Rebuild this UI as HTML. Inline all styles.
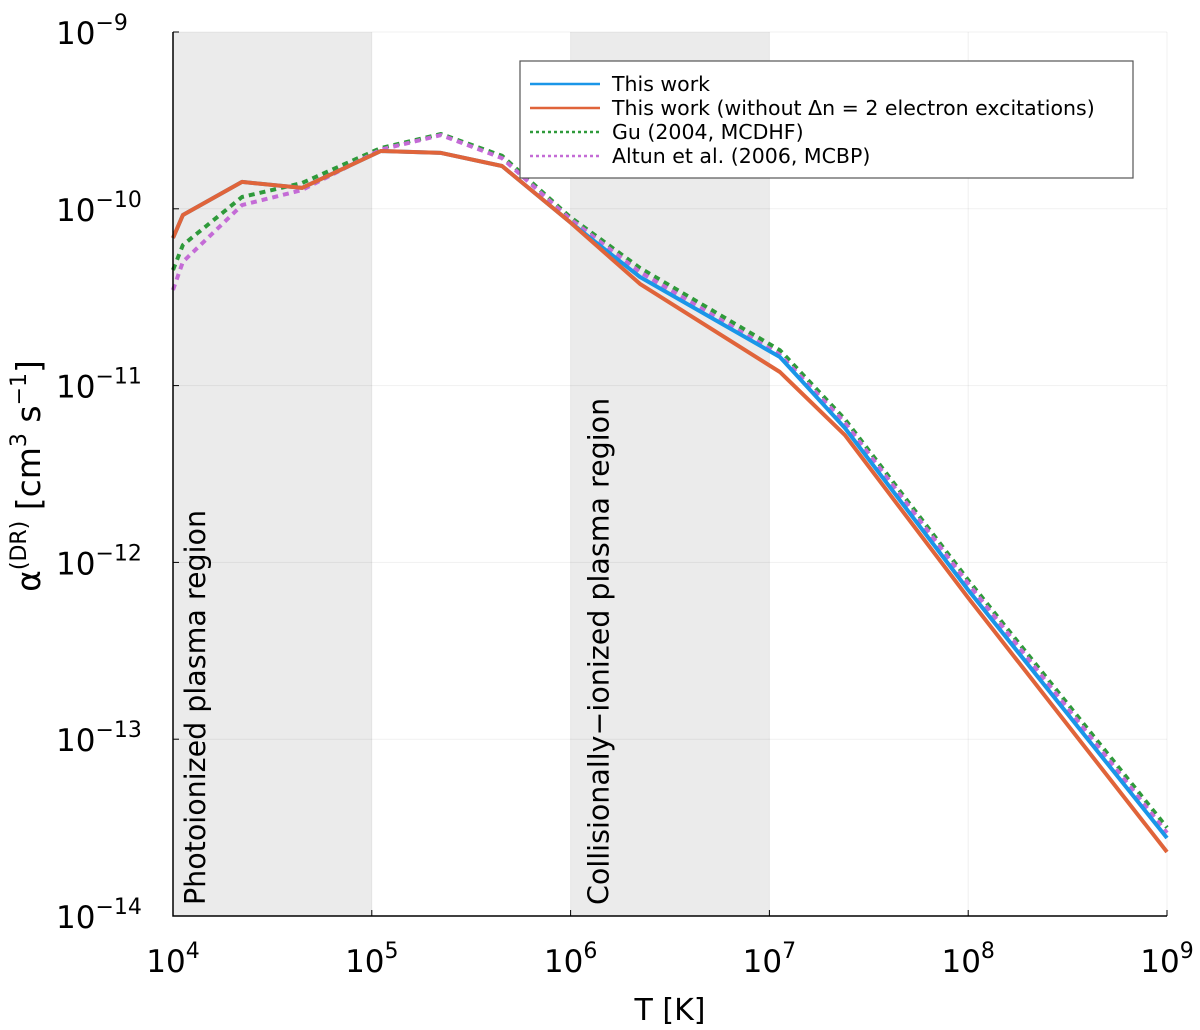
<!DOCTYPE html>
<html><head><meta charset="utf-8"><style>
body{margin:0;background:#fff;}
svg{display:block;font-family:"DejaVu Sans","Liberation Sans",sans-serif;}
</style></head><body>
<svg id="chart" width="1200" height="1030" viewBox="0 0 1200 1030"></svg>
<script>
const logT = [4.0,4.05,4.347,4.649,5.046,5.348,5.655,5.997,6.349,7.053,7.38,8.0,9.0];
const redVals = [-10.165,-10.035,-9.848,-9.882,-9.673,-9.684,-9.758,-10.075,-10.425,-10.923,-11.28,-12.20,-13.638];
const blueVals = [-10.165,-10.035,-9.848,-9.882,-9.673,-9.684,-9.758,-10.075,-10.386,-10.838,-11.24,-12.156,-13.559];
const greenVals = [-10.346,-10.205,-9.933,-9.854,-9.656,-9.577,-9.70,-10.046,-10.335,-10.80,-11.19,-12.10,-13.50];
const purpleVals = [-10.459,-10.30,-9.979,-9.894,-9.665,-9.583,-9.713,-10.057,-10.358,-10.826,-11.21,-12.12,-13.53];
const xTicks = [4,5,6,7,8,9];
const yTicks = [-9,-10,-11,-12,-13,-14];

const NS="http://www.w3.org/2000/svg";
const svg=document.getElementById('chart');
const X0=173,X1=1167,Y0=32,Y1=916;
const xs=v=>X0+(v-4)/5*(X1-X0);
const ys=v=>Y0+(-9-v)/5*(Y1-Y0);
function mk(tag,attrs,parent){const e=document.createElementNS(NS,tag);for(const k in attrs)e.setAttribute(k,attrs[k]);(parent||svg).appendChild(e);return e;}

let r1=mk('rect',{x:xs(4),y:Y0,width:xs(5)-xs(4),height:Y1-Y0,fill:'#ebebeb'});


let r2=mk('rect',{x:xs(6),y:Y0,width:xs(7)-xs(6),height:Y1-Y0,fill:'#ebebeb'});



xTicks.forEach(t=>{let g=mk('line',{x1:xs(t),x2:xs(t),y1:Y0,y2:Y1,stroke:'#000','stroke-opacity':0.06,'stroke-width':1});

});
yTicks.forEach(t=>{let g=mk('line',{x1:X0,x2:X1,y1:ys(t),y2:ys(t),stroke:'#000','stroke-opacity':0.06,'stroke-width':1});

});

let l1=mk('text',{x:0,y:0,transform:`translate(${xs(4)+32},905) rotate(-90)`,'font-size':28.5,fill:'#000'});
l1.textContent='Photoionized plasma region';


let l2=mk('text',{x:0,y:0,transform:`translate(${xs(6)+38},905) rotate(-90)`,'font-size':28.5,fill:'#000'});
l2.textContent='Collisionally\u2212ionized plasma region';



function series(vals,color,dash,name){
  const d=vals.map((v,i)=>(i?'L':'M')+xs(logT[i]).toFixed(1)+','+ys(v).toFixed(1)).join(' ');
  const p=mk('path',{d:d,fill:'none',stroke:color,'stroke-width':4,'stroke-dasharray':dash||'none','stroke-linejoin':'round'});
  
  
}
series(greenVals,'#2e9a3a','6,5','gu-2004-series');
series(purpleVals,'#c46bd6','6,5','altun-2006-series');
series(blueVals,'#1a96e8',null,'this-work-series');
series(redVals,'#e0643a',null,'without-dn2-series');

let ax=mk('path',{d:`M${X0},${Y0} L${X0},${Y1} L${X1},${Y1}`,fill:'none',stroke:'#000','stroke-width':1.5});



xTicks.forEach(t=>{
  let tk=mk('line',{x1:xs(t),x2:xs(t),y1:Y1,y2:Y1-6,stroke:'#000'});
  
  
  let tx=mk('text',{x:xs(t),y:972,'font-size':31,'text-anchor':'middle'});
  tx.innerHTML='10<tspan dy="-14" font-size="22">'+t+'</tspan>';
  
  
});
yTicks.forEach(t=>{
  let tk=mk('line',{x1:X0,x2:X0+6,y1:ys(t),y2:ys(t),stroke:'#000'});
  
  
  let tx=mk('text',{x:56,y:ys(t)+12,'font-size':31});
  tx.innerHTML='10<tspan dy="-14" font-size="22">\u2212'+(-t)+'</tspan>';
  
  
});

let xt=mk('text',{x:670,y:1020,'font-size':30,'text-anchor':'middle'});
xt.textContent='T [K]';


let yt=mk('text',{x:0,y:0,transform:'translate(40,476) rotate(-90)','font-size':33,'text-anchor':'middle'});
yt.innerHTML='α<tspan dy="-14" font-size="22">(DR)</tspan><tspan dy="14"> [cm</tspan><tspan dy="-14" font-size="22">3</tspan><tspan dy="14"> s</tspan><tspan dy="-14" font-size="22">\u22121</tspan><tspan dy="14">]</tspan>';



const lg=mk('g',{});


mk('rect',{x:520,y:61,width:613,height:117,fill:'#fff',stroke:'#555','stroke-width':1.2},lg);
const entries=[['This work','#1a96e8',null],['This work (without \u0394n = 2 electron excitations)','#e0643a',null],['Gu (2004, MCDHF)','#2e9a3a','3,3'],['Altun et al. (2006, MCBP)','#c46bd6','3,3']];
entries.forEach((e,i)=>{
  const y=84+i*24;
  const g=mk('g',{},lg);
  
  
  mk('line',{x1:530,x2:600,y1:y,y2:y,stroke:e[1],'stroke-width':2.5,'stroke-dasharray':e[2]||'none'},g);
  const t=mk('text',{x:612,y:y+7,'font-size':20.5},g);
  t.textContent=e[0];
});
</script>
</body></html>
